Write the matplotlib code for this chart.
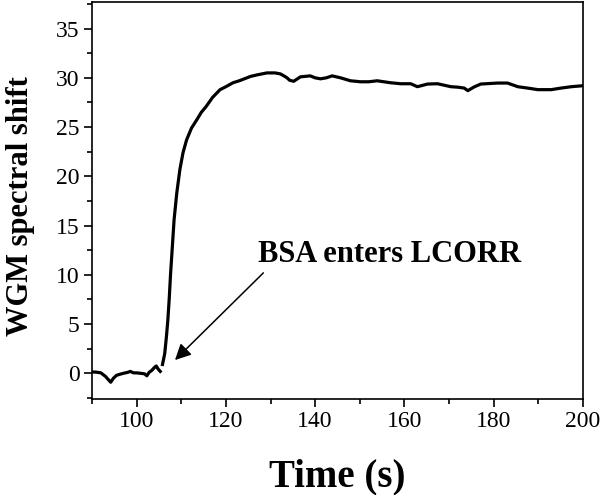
import numpy as np
import matplotlib
matplotlib.use("Agg")
import matplotlib.pyplot as plt

# Baseline segment (before BSA arrives)
t_base = [90.0, 91.0, 92.0, 93.0, 93.6, 94.2, 94.8, 95.5, 96.2, 97.0, 98.0, 98.6, 99.3, 100.0,
          101.0, 101.8, 102.3, 102.8, 103.4, 104.0, 104.4, 104.8, 105.3]
y_base = [0.15, 0.12, 0.05, -0.3, -0.6, -0.9, -0.5, -0.2, -0.1, 0.0, 0.1, 0.2, 0.05, 0.05,
          0.0, -0.05, -0.25, 0.1, 0.3, 0.6, 0.75, 0.45, 0.2]

# Binding segment
t_bind = [105.8, 106.3, 106.7, 107.0, 107.3, 107.6, 108.0, 108.4, 109.0, 109.7, 110.4, 111.2,
          112.3, 113.5, 114.5, 115.6, 117.0, 118.7, 120.0, 121.6, 123.0, 125.5, 127.0, 129.2,
          131.0, 132.2, 133.0, 133.7, 134.3, 135.2, 136.7, 138.9, 140.0, 141.2, 142.5, 143.8,
          145.7, 147.9, 150.2, 152.0, 153.9, 156.9, 159.2, 161.4, 162.9, 165.2, 167.4, 170.4,
          172.0, 173.4, 174.2, 175.6, 177.1, 180.9, 183.1, 185.4, 187.6, 189.9, 192.9, 195.1,
          197.4, 200.0]
y_bind = [0.9, 2.0, 3.8, 5.4, 7.5, 10.0, 12.8, 15.6, 18.3, 20.7, 22.4, 23.7,
          24.9, 25.75, 26.5, 27.1, 28.0, 28.8, 29.1, 29.5, 29.7, 30.14, 30.3, 30.5,
          30.5, 30.4, 30.2, 30.0, 29.75, 29.65, 30.1, 30.2, 30.0, 29.9, 30.0, 30.2,
          30.0, 29.7, 29.6, 29.6, 29.7, 29.5, 29.4, 29.4, 29.1, 29.37, 29.4, 29.1,
          29.05, 28.96, 28.7, 29.07, 29.37, 29.47, 29.47, 29.1, 28.96, 28.8, 28.8, 28.96,
          29.1, 29.2]

x_ticks = [100, 120, 140, 160, 180, 200]
y_ticks = [0, 5, 10, 15, 20, 25, 30, 35]

plt.rcParams['font.family'] = ['Liberation Serif', 'DejaVu Serif']

fig = plt.figure(figsize=(6.01, 4.95), dpi=100)
ax = fig.add_axes([0.153, 0.194, 0.817, 0.802])

ax.plot(t_base, y_base, color='black', lw=2.3, solid_joinstyle='round')
ax.plot(t_bind, y_bind, color='black', lw=2.3, solid_joinstyle='round')

ax.set_xlim(90, 200)
ax.set_ylim(-2.6, 37.7)
ax.set_xticks(x_ticks)
ax.set_yticks(y_ticks)
ax.set_xticks(np.arange(90, 201, 10), minor=True)
ax.set_yticks(np.arange(-2.5, 37.6, 2.5), minor=True)

for s in ax.spines.values():
    s.set_linewidth(1.2)
ax.tick_params(which='major', direction='out', length=6, width=1.2, labelsize=17,
               top=False, right=False, pad=3)
ax.tick_params(which='minor', direction='out', length=3.5, width=1.2, top=False, right=False)

ax.set_xlabel('Time (s)', fontsize=28, fontweight='bold', labelpad=19)
ax.set_ylabel('WGM spectral shift', fontsize=22, fontweight='bold')
ax.yaxis.set_label_coords(-0.116, 0.485)

ax.text(156.7, 12.1, 'BSA enters LCORR', fontsize=22, fontweight='bold',
        ha='center', va='center')
ax.annotate('', xy=(108.6, 1.35), xytext=(128.4, 10.2),
            arrowprops=dict(arrowstyle='-|>', color='black', lw=1.1,
                            mutation_scale=24, shrinkA=0, shrinkB=0))

fig.savefig('out.png', dpi=100)
